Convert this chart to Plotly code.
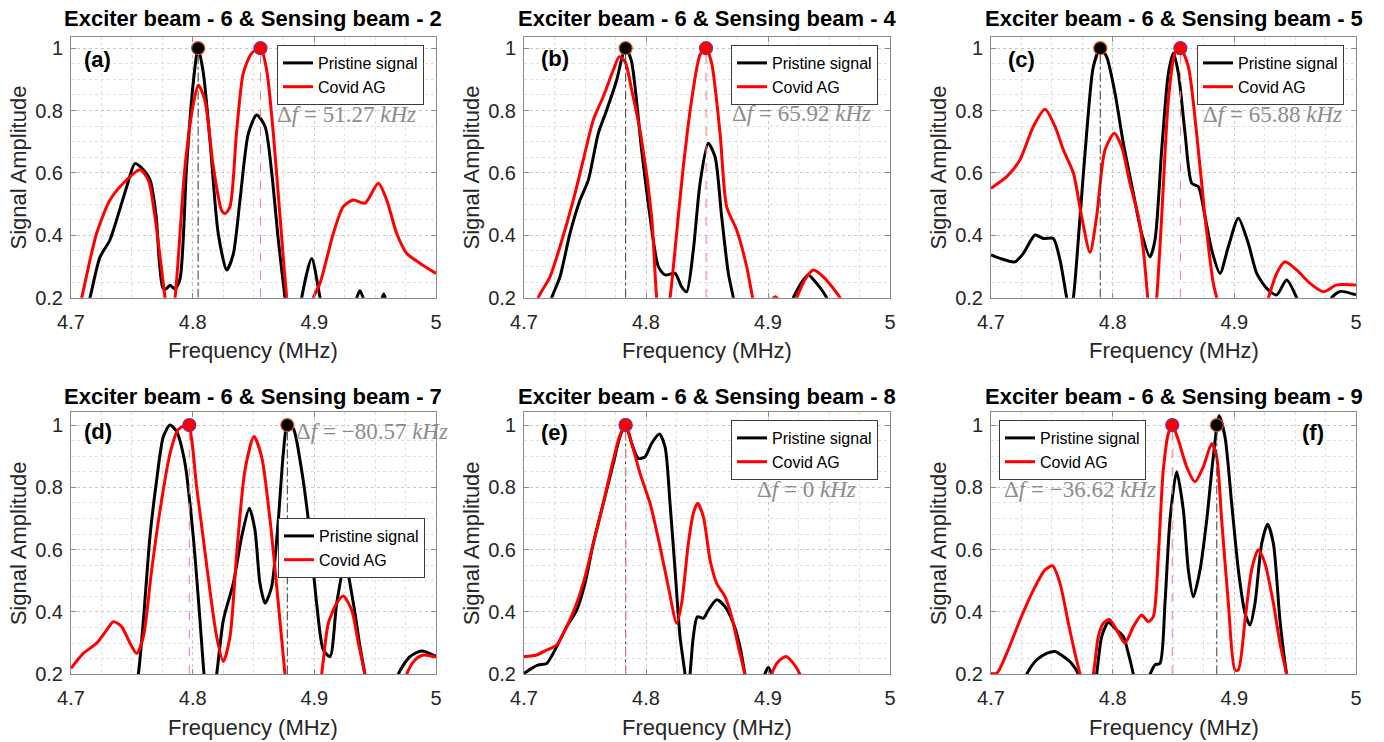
import plotly.graph_objects as go

# ---------------- data ----------------
x_ticks = [4.7, 4.8, 4.9, 5.0]
x_tick_labels = ["4.7", "4.8", "4.9", "5"]
y_ticks = [0.2, 0.4, 0.6, 0.8, 1.0]
y_tick_labels = ["0.2", "0.4", "0.6", "0.8", "1"]

panel_tags = ["(a)", "(b)", "(c)", "(d)", "(e)", "(f)"]
sensing_beams = [2, 4, 5, 7, 8, 9]
exciter_beam = 6
series_names = ["Pristine signal", "Covid AG"]

# peak frequency of the pristine signal (MHz) and frequency shift (kHz)
peak_pristine = [4.8045, 4.7833, 4.7898, 4.8778, 4.7833, 4.8856]
delta_f_khz = [51.27, 65.92, 65.88, -80.57, 0.0, -36.62]
peak_amp = 1.0

# (a) sensing beam 2
fa_p = [4.700, 4.710, 4.7156, 4.7238, 4.732, 4.7375, 4.7458, 4.7526, 4.7595, 4.765,
        4.770, 4.7725, 4.7755, 4.778, 4.7814, 4.7855, 4.7896, 4.795, 4.8005, 4.8045,
        4.8088, 4.8142, 4.821, 4.828, 4.8334, 4.8389, 4.8458, 4.8526, 4.8595, 4.865,
        4.8704, 4.8759, 4.880, 4.886, 4.8896, 4.8978, 4.9047, 4.910, 4.930, 4.9375,
        4.945, 4.952, 4.957, 4.962, 4.980, 5.0]
aa_p = [0.05, 0.12, 0.2, 0.33, 0.385, 0.45, 0.556, 0.63, 0.61, 0.577,
        0.46, 0.32, 0.232, 0.228, 0.24, 0.228, 0.26, 0.62, 0.89, 1.0,
        0.92, 0.706, 0.406, 0.289, 0.34, 0.513, 0.727, 0.786, 0.749, 0.60,
        0.385, 0.2, 0.08, 0.08, 0.2, 0.326, 0.2, 0.1, 0.15, 0.222,
        0.15, 0.15, 0.212, 0.15, 0.05, 0.05]
fa_c = [4.700, 4.7088, 4.721, 4.732, 4.743, 4.7567, 4.7636, 4.769, 4.7773, 4.781,
        4.7855, 4.7937, 4.8005, 4.8047, 4.810, 4.817, 4.8238, 4.8266, 4.8307, 4.836,
        4.8416, 4.8485, 4.8558, 4.8608, 4.8663, 4.8718, 4.8773, 4.882, 4.895, 4.8992,
        4.9047, 4.9156, 4.9238, 4.932, 4.9416, 4.9526, 4.9595, 4.9677, 4.976, 4.987,
        5.0]
aa_c = [0.05, 0.2, 0.406, 0.513, 0.567, 0.61, 0.577, 0.46, 0.2, 0.1,
        0.2, 0.62, 0.82, 0.882, 0.834, 0.62, 0.48, 0.47, 0.492, 0.727,
        0.92, 0.984, 1.0, 0.93, 0.727, 0.46, 0.2, 0.05, 0.1, 0.2,
        0.246, 0.406, 0.492, 0.513, 0.503, 0.567, 0.513, 0.406, 0.342, 0.31,
        0.278]

# (b) sensing beam 4
fb_p = [4.700, 4.715, 4.7227, 4.7295, 4.7377, 4.7459, 4.7527, 4.7609, 4.7678, 4.776,
        4.781, 4.7835, 4.788, 4.7964, 4.8033, 4.8101, 4.8156, 4.8238, 4.8292, 4.8333,
        4.8388, 4.8443, 4.851, 4.8566, 4.862, 4.8675, 4.8716, 4.876, 4.900, 4.915,
        4.9208, 4.929, 4.933, 4.9399, 4.948, 4.955, 5.0]
ab_p = [0.05, 0.1, 0.2, 0.267, 0.406, 0.513, 0.577, 0.727, 0.802, 0.898,
        0.98, 1.0, 0.96, 0.674, 0.46, 0.3, 0.273, 0.278, 0.235, 0.219,
        0.353, 0.567, 0.695, 0.652, 0.46, 0.278, 0.2, 0.1, 0.05, 0.1,
        0.2, 0.257, 0.273, 0.246, 0.2, 0.12, 0.05]
fb_c = [4.700, 4.7117, 4.7213, 4.7295, 4.7404, 4.7486, 4.7568, 4.765, 4.7732, 4.7781,
        4.7828, 4.7883, 4.7964, 4.8046, 4.8087, 4.813, 4.8197, 4.8251, 4.8306, 4.8374,
        4.8443, 4.8492, 4.8538, 4.8607, 4.8661, 4.8743, 4.8825, 4.8874, 4.892, 4.900,
        4.903, 4.906, 4.909, 4.915, 4.9235, 4.9317, 4.9372, 4.9454, 4.959, 4.965,
        5.0]
ab_c = [0.05, 0.2, 0.267, 0.364, 0.513, 0.642, 0.77, 0.845, 0.93, 0.973,
        0.957, 0.866, 0.706, 0.46, 0.2, 0.05, 0.2, 0.406, 0.62, 0.834,
        0.979, 1.0, 0.952, 0.727, 0.492, 0.417, 0.3, 0.2, 0.12, 0.15,
        0.19, 0.203, 0.19, 0.1, 0.2, 0.267, 0.289, 0.267, 0.2, 0.15,
        0.05]

# (c) sensing beam 5
fc_p = [4.700, 4.7074, 4.7197, 4.7266, 4.7362, 4.743, 4.7512, 4.7567, 4.7622, 4.765,
        4.7677, 4.7732, 4.7786, 4.7841, 4.7898, 4.795, 4.8019, 4.8088, 4.817, 4.8238,
        4.8307, 4.8348, 4.8403, 4.8458, 4.8499, 4.854, 4.8595, 4.865, 4.8704, 4.8759,
        4.8814, 4.8882, 4.8951, 4.9033, 4.9115, 4.9184, 4.9266, 4.9348, 4.943, 4.9512,
        4.958, 4.975, 4.98, 4.9868, 5.0]
ac_p = [0.337, 0.326, 0.315, 0.342, 0.401, 0.39, 0.39, 0.321, 0.2, 0.15,
        0.2, 0.46, 0.727, 0.94, 1.0, 0.973, 0.856, 0.695, 0.535, 0.406,
        0.331, 0.385, 0.674, 0.92, 0.984, 0.92, 0.727, 0.567, 0.556, 0.46,
        0.353, 0.278, 0.364, 0.455, 0.374, 0.278, 0.23, 0.209, 0.257, 0.2,
        0.12, 0.15, 0.2, 0.22, 0.209]
fc_c = [4.700, 4.7129, 4.7238, 4.7348, 4.7444, 4.7526, 4.7595, 4.7677, 4.7745, 4.7814,
        4.7868, 4.7937, 4.8014, 4.8074, 4.8142, 4.8211, 4.8252, 4.8288, 4.832, 4.8362,
        4.8403, 4.8458, 4.8512, 4.8557, 4.8622, 4.869, 4.8759, 4.8827, 4.8855, 4.890,
        4.920, 4.928, 4.9348, 4.9416, 4.9512, 4.9622, 4.9732, 4.9841, 5.0]
ac_c = [0.551, 0.588, 0.642, 0.749, 0.804, 0.749, 0.674, 0.6, 0.46, 0.345,
        0.46, 0.674, 0.727, 0.684, 0.567, 0.46, 0.353, 0.2, 0.05, 0.2,
        0.46, 0.834, 0.984, 1.0, 0.941, 0.727, 0.46, 0.246, 0.2, 0.1,
        0.1, 0.2, 0.278, 0.315, 0.289, 0.246, 0.219, 0.241, 0.241]

# (d) sensing beam 7
fd_p = [4.700, 4.750, 4.7553, 4.7595, 4.7649, 4.7704, 4.7759, 4.7814, 4.7868, 4.7937,
        4.8005, 4.806, 4.8093, 4.813, 4.8197, 4.8252, 4.8334, 4.8403, 4.8466, 4.8512,
        4.8553, 4.8595, 4.8649, 4.8704, 4.8745, 4.8778, 4.8827, 4.8882, 4.8951, 4.9019,
        4.9074, 4.9129, 4.9184, 4.9252, 4.9321, 4.9375, 4.9416, 4.946, 4.965, 4.969,
        4.9786, 4.9882, 5.0]
ad_p = [0.05, 0.1, 0.2, 0.374, 0.642, 0.823, 0.963, 1.0, 0.979, 0.877,
        0.642, 0.374, 0.2, 0.05, 0.2, 0.374, 0.492, 0.642, 0.733, 0.663,
        0.492, 0.428, 0.481, 0.695, 0.909, 1.0, 0.989, 0.888, 0.695, 0.428,
        0.278, 0.257, 0.428, 0.556, 0.428, 0.289, 0.2, 0.1, 0.1, 0.2,
        0.257, 0.275, 0.257]
fd_c = [4.700, 4.7101, 4.7211, 4.7293, 4.7348, 4.7416, 4.7485, 4.754, 4.7595, 4.7663,
        4.7732, 4.7814, 4.7880, 4.7960, 4.8033, 4.8115, 4.8197, 4.8252, 4.8307, 4.8362,
        4.843, 4.8504, 4.8567, 4.8636, 4.8704, 4.8759, 4.880, 4.900, 4.906, 4.9115,
        4.9184, 4.9238, 4.9307, 4.9362, 4.9416, 4.946, 4.970, 4.9759, 4.9827, 4.9896,
        5.0]
ad_c = [0.219, 0.267, 0.3, 0.342, 0.369, 0.353, 0.3, 0.267, 0.321, 0.535,
        0.727, 0.909, 0.985, 1.0, 0.80, 0.55, 0.321, 0.241, 0.321, 0.588,
        0.856, 0.963, 0.898, 0.695, 0.428, 0.2, 0.05, 0.05, 0.2, 0.364,
        0.428, 0.451, 0.406, 0.3, 0.2, 0.1, 0.1, 0.2, 0.246, 0.262,
        0.255]

# (e) sensing beam 8
fe_p = [4.700, 4.7063, 4.7117, 4.7186, 4.7268, 4.735, 4.7432, 4.75, 4.7568, 4.765,
        4.7732, 4.7787, 4.7833, 4.7883, 4.7937, 4.7992, 4.8046, 4.8109, 4.8156, 4.8197,
        4.8238, 4.8279, 4.832, 4.834, 4.8361, 4.8388, 4.8421, 4.847, 4.8511, 4.8579,
        4.8648, 4.8716, 4.877, 4.8811, 4.885, 4.893, 4.8965, 4.9003, 4.904, 4.910,
        5.0]
ae_p = [0.203, 0.219, 0.23, 0.235, 0.289, 0.353, 0.406, 0.492, 0.62, 0.749,
        0.877, 0.963, 1.0, 0.941, 0.893, 0.898, 0.941, 0.971, 0.93, 0.749,
        0.535, 0.321, 0.2, 0.12, 0.2, 0.321, 0.385, 0.38, 0.406, 0.439,
        0.417, 0.364, 0.289, 0.2, 0.1, 0.1, 0.19, 0.222, 0.19, 0.1,
        0.05]
fe_c = [4.700, 4.7104, 4.7186, 4.7268, 4.735, 4.7432, 4.75, 4.7568, 4.765, 4.7732,
        4.7787, 4.7833, 4.7883, 4.7951, 4.8033, 4.8115, 4.8183, 4.8251, 4.8292, 4.8347,
        4.8388, 4.8423, 4.847, 4.8525, 4.8579, 4.8648, 4.8702, 4.8757, 4.8811, 4.886,
        4.898, 4.903, 4.9085, 4.9148, 4.9208, 4.9262, 4.932, 5.0]
ae_c = [0.257, 0.262, 0.278, 0.294, 0.353, 0.428, 0.513, 0.62, 0.749, 0.888,
        0.968, 1.0, 0.941, 0.845, 0.749, 0.61, 0.481, 0.364, 0.428, 0.62,
        0.717, 0.749, 0.706, 0.567, 0.492, 0.449, 0.385, 0.289, 0.2, 0.1,
        0.1, 0.2, 0.241, 0.257, 0.235, 0.2, 0.12, 0.05]

# (f) sensing beam 9
ff_p = [4.700, 4.720, 4.7293, 4.7375, 4.7458, 4.7526, 4.7595, 4.7663, 4.7718, 4.776,
        4.783, 4.7868, 4.791, 4.7964, 4.8033, 4.8088, 4.8129, 4.817, 4.822, 4.8307,
        4.8348, 4.8389, 4.843, 4.8471, 4.8526, 4.8581, 4.8622, 4.8663, 4.8718, 4.8773,
        4.8827, 4.8875, 4.8923, 4.8978, 4.9033, 4.9088, 4.9129, 4.917, 4.9225, 4.9274,
        4.9321, 4.9375, 4.943, 4.948, 5.0]
af_p = [0.05, 0.1, 0.2, 0.246, 0.267, 0.273, 0.257, 0.235, 0.2, 0.1,
        0.1, 0.2, 0.321, 0.366, 0.342, 0.321, 0.267, 0.2, 0.1, 0.2,
        0.23, 0.235, 0.428, 0.695, 0.85, 0.727, 0.535, 0.449, 0.535, 0.695,
        0.898, 1.03, 0.963, 0.749, 0.535, 0.396, 0.358, 0.428, 0.62, 0.682,
        0.62, 0.374, 0.2, 0.1, 0.05]
ff_c = [4.700, 4.7047, 4.7129, 4.7238, 4.7348, 4.7444, 4.7507, 4.7567, 4.7636, 4.769,
        4.7732, 4.778, 4.7841, 4.7882, 4.7923, 4.7973, 4.8033, 4.8101, 4.817, 4.8238,
        4.8293, 4.8334, 4.8375, 4.8416, 4.8458, 4.849, 4.854, 4.8608, 4.8677, 4.8745,
        4.8814, 4.8855, 4.8896, 4.8951, 4.9005, 4.9033, 4.9088, 4.9142, 4.9197, 4.9252,
        4.9321, 4.9375, 4.943, 4.948, 5.0]
af_c = [0.203, 0.203, 0.267, 0.374, 0.47, 0.535, 0.548, 0.492, 0.364, 0.267,
        0.2, 0.1, 0.2, 0.321, 0.364, 0.376, 0.342, 0.3, 0.353, 0.39,
        0.369, 0.385, 0.578, 0.856, 0.973, 1.0, 0.952, 0.866, 0.818, 0.866,
        0.941, 0.898, 0.695, 0.428, 0.214, 0.214, 0.374, 0.535, 0.6, 0.556,
        0.428, 0.3, 0.2, 0.1, 0.05]

pristine_f = [fa_p, fb_p, fc_p, fd_p, fe_p, ff_p]
pristine_a = [aa_p, ab_p, ac_p, ad_p, ae_p, af_p]
covid_f = [fa_c, fb_c, fc_c, fd_c, fe_c, ff_c]
covid_a = [aa_c, ab_c, ac_c, ad_c, ae_c, af_c]
for _f, _a in zip(pristine_f + covid_f, pristine_a + covid_a):
    assert len(_f) == len(_a), (len(_f), len(_a))

# ---------------- layout (pixel geometry of the reference) ----------------
W, H = 1384, 742
col_px = [(71, 436), (524, 890), (991, 1356)]
row_px = [(37.3, 297.7), (412.3, 674.3)]
row_ytop = [1.035, 1.041]
legend_px = [(277, 45), (731, 45), (1197, 45), (278, 518), (731, 420), (999, 420)]
tag_px = [(97, 60), (555, 58), (1021, 60), (98, 431), (554, 432), (1313, 432)]
df_px = [(347, 114), (801, 113), (1272, 114), (372, 431), (806, 489), (1080, 489)]

SANS = "Liberation Sans, Arial, sans-serif"
SERIF = "Liberation Serif, Times New Roman, serif"
AXC = "#8a8a8a"
GRID = "#c8c8c8"
MINOR = "#dedede"
TXT = "#262626"


def fx(p):
    return p / W


def fy(p):
    return 1 - p / H


fig = go.Figure()
annotations = []
layout = {}

for i in range(6):
    n = i + 1
    r, c = divmod(i, 3)
    xa = "x" if n == 1 else f"x{n}"
    ya = "y" if n == 1 else f"y{n}"
    lg = "legend" if n == 1 else f"legend{n}"

    fig.add_trace(go.Scatter(
        x=pristine_f[i], y=pristine_a[i], mode="lines", name=series_names[0],
        line=dict(color="black", width=3, shape="spline", smoothing=0.7),
        xaxis=xa, yaxis=ya, legend=lg, hoverinfo="x+y"))
    fig.add_trace(go.Scatter(
        x=covid_f[i], y=covid_a[i], mode="lines", name=series_names[1],
        line=dict(color="#ff0000", width=3, shape="spline", smoothing=0.7),
        xaxis=xa, yaxis=ya, legend=lg, hoverinfo="x+y"))

    pk_p = peak_pristine[i]
    pk_c = peak_pristine[i] + delta_f_khz[i] / 1000.0
    fig.add_trace(go.Scatter(
        x=[pk_p, pk_p], y=[y_ticks[0], peak_amp], mode="lines", showlegend=False,
        line=dict(color="#3a3a3a", width=1, dash="dashdot"),
        xaxis=xa, yaxis=ya, hoverinfo="skip"))
    fig.add_trace(go.Scatter(
        x=[pk_c, pk_c], y=[y_ticks[0], peak_amp], mode="lines", showlegend=False,
        line=dict(color="#ff7a7a", width=1, dash="dash"),
        xaxis=xa, yaxis=ya, hoverinfo="skip"))
    fig.add_trace(go.Scatter(
        x=[pk_p], y=[peak_amp], mode="markers", showlegend=False,
        marker=dict(size=13, color="black", line=dict(color="#D95319", width=1.2)),
        xaxis=xa, yaxis=ya))
    fig.add_trace(go.Scatter(
        x=[pk_c], y=[peak_amp], mode="markers", showlegend=False,
        marker=dict(size=13, color="#ff0000", line=dict(color="#7E2F8E", width=1.2)),
        xaxis=xa, yaxis=ya))

    x0, x1 = col_px[c]
    y0, y1 = row_px[r]
    xkey = "xaxis" if n == 1 else f"xaxis{n}"
    ykey = "yaxis" if n == 1 else f"yaxis{n}"
    layout[xkey] = dict(
        domain=[fx(x0), fx(x1)], anchor=ya, range=[4.7, 5.0], automargin=False,
        tickmode="array", tickvals=x_ticks, ticktext=x_tick_labels,
        ticks="inside", ticklen=5, tickcolor=AXC, showline=True, linecolor=AXC,
        linewidth=1, mirror="ticks", showgrid=True, gridcolor=GRID, griddash="dot",
        gridwidth=1, zeroline=False, ticklabelstandoff=6,
        minor=dict(tickmode="linear", tick0=4.7, dtick=0.025, showgrid=True,
                   gridcolor=MINOR, griddash="dot", gridwidth=1),
        tickfont=dict(family=SANS, size=20, color=TXT))
    layout[ykey] = dict(
        domain=[fy(y1), fy(y0)], anchor=xa, range=[0.2, row_ytop[r]], automargin=False,
        tickmode="array", tickvals=y_ticks, ticktext=y_tick_labels,
        ticks="inside", ticklen=5, tickcolor=AXC, showline=True, linecolor=AXC,
        linewidth=1, mirror="ticks", showgrid=True, gridcolor=GRID, griddash="dot",
        gridwidth=1, zeroline=False, ticklabelstandoff=3,
        minor=dict(tickmode="linear", tick0=0.2, dtick=0.05, showgrid=True,
                   gridcolor=MINOR, griddash="dot", gridwidth=1),
        tickfont=dict(family=SANS, size=20, color=TXT))

    lx, ly = legend_px[i]
    layout[lg] = dict(
        x=fx(lx), y=fy(ly), xanchor="left", yanchor="top", xref="paper", yref="paper",
        bgcolor="white", bordercolor="#3c3c3c", borderwidth=1,
        font=dict(family=SANS, size=16, color="black"), tracegroupgap=0,
        itemwidth=30)

    xc = (x0 + x1) / 2
    # subplot title
    annotations.append(dict(
        text=f"<b>Exciter beam - {exciter_beam} &amp; Sensing beam - {sensing_beams[i]}</b>",
        x=fx(xc), y=fy(19 if r == 0 else 396.7), xref="paper", yref="paper",
        showarrow=False, xanchor="center", yanchor="middle",
        font=dict(family=SANS, size=22, color="black")))
    # axis titles
    annotations.append(dict(
        text="Frequency (MHz)", x=fx(xc), y=fy(350 if r == 0 else 727),
        xref="paper", yref="paper", showarrow=False, xanchor="center",
        yanchor="middle", font=dict(family=SANS, size=22, color=TXT)))
    annotations.append(dict(
        text="Signal Amplitude", x=fx(x0 - 53), y=fy((y0 + y1) / 2),
        xref="paper", yref="paper", showarrow=False, textangle=-90,
        xanchor="center", yanchor="middle", font=dict(family=SANS, size=22, color=TXT)))
    # panel tag
    tx, ty = tag_px[i]
    annotations.append(dict(
        text=f"<b>{panel_tags[i]}</b>", x=fx(tx), y=fy(ty), xref="paper", yref="paper",
        showarrow=False, xanchor="center", yanchor="middle",
        font=dict(family=SANS, size=22, color="black")))
    # delta f label
    v = delta_f_khz[i]
    vs = "0" if v == 0 else f"{v:.2f}".replace("-", "\u2212")
    dx, dy = df_px[i]
    annotations.append(dict(
        text=f"\u0394<i>f</i> = {vs} <i>kHz</i>", x=fx(dx), y=fy(dy),
        xref="paper", yref="paper", showarrow=False, xanchor="center",
        yanchor="middle", font=dict(family=SERIF, size=23, color="#8c8c8c")))

fig.update_layout(
    width=W, height=H, margin=dict(l=0, r=0, t=0, b=0, pad=0, autoexpand=False),
    paper_bgcolor="white", plot_bgcolor="white",
    annotations=annotations, **layout)

fig.write_html("out.html", config={"displayModeBar": False},
               post_script="document.body.style.margin='0px';")
